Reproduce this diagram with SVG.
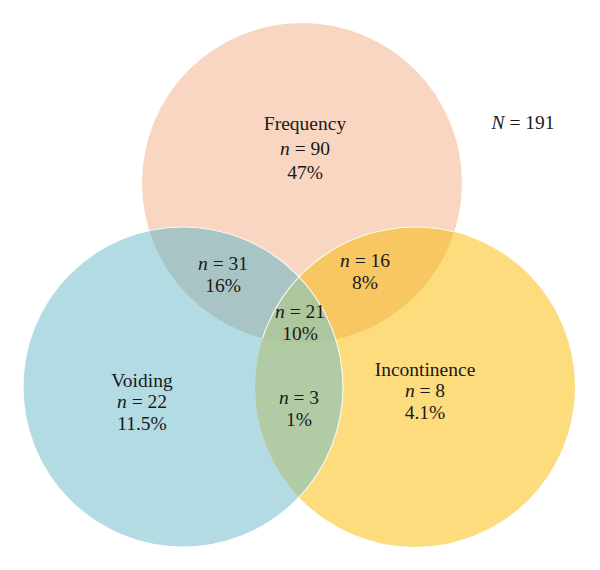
<svg xmlns="http://www.w3.org/2000/svg" width="600" height="570" viewBox="0 0 600 570">
<style>
text{font-family:"Liberation Serif","Times New Roman",serif;font-size:19.5px;fill:#1a1a1a;text-anchor:middle}
.i{font-style:italic}
.edge{fill:none;stroke:#ffffff;stroke-width:1.2;stroke-opacity:0.85}
</style>
<defs>
<clipPath id="cF"><circle cx="302" cy="183" r="160"/></clipPath>
<clipPath id="cV"><circle cx="183" cy="387" r="160"/></clipPath>
<clipPath id="cI"><circle cx="415" cy="387" r="160"/></clipPath>
</defs>
<rect width="600" height="570" fill="#ffffff"/>
<g id="frequency">
<circle cx="302" cy="183" r="160" fill="#F8D6C2"/>
</g>
<g id="voiding">
<circle cx="183" cy="387" r="160" fill="#B2DBE3"/>
</g>
<g id="incontinence">
<circle cx="415" cy="387" r="160" fill="#FDDC7E"/>
</g>
<g id="overlaps">
<g clip-path="url(#cF)"><circle cx="183" cy="387" r="160" fill="#A9C4C5"/><circle cx="415" cy="387" r="160" fill="#F9C762"/></g>
<g clip-path="url(#cV)"><circle cx="415" cy="387" r="160" fill="#B1CCA5"/></g>
<g clip-path="url(#cF)"><g clip-path="url(#cV)"><circle cx="415" cy="387" r="160" fill="#AEC69E"/></g></g>
</g>
<g id="edges">
<circle class="edge" cx="183" cy="387" r="160"/>
<circle class="edge" cx="415" cy="387" r="160" clip-path="url(#cF)"/>
</g>
<g id="labels">
<text x="305" y="130">Frequency</text>
<text x="305" y="155"><tspan class="i">n</tspan> = 90</text>
<text x="305" y="179">47%</text>
<text x="223" y="270"><tspan class="i">n</tspan> = 31</text>
<text x="223" y="292">16%</text>
<text x="365" y="267"><tspan class="i">n</tspan> = 16</text>
<text x="365" y="289">8%</text>
<text x="300" y="318"><tspan class="i">n</tspan> = 21</text>
<text x="300" y="340">10%</text>
<text x="142" y="387">Voiding</text>
<text x="142" y="408"><tspan class="i">n</tspan> = 22</text>
<text x="142" y="430">11.5%</text>
<text x="299" y="404"><tspan class="i">n</tspan> = 3</text>
<text x="299" y="426">1%</text>
<text x="425" y="376">Incontinence</text>
<text x="425" y="397"><tspan class="i">n</tspan> = 8</text>
<text x="425" y="419">4.1%</text>
<text x="523" y="129"><tspan class="i">N</tspan> = 191</text>
</g>
</svg>
